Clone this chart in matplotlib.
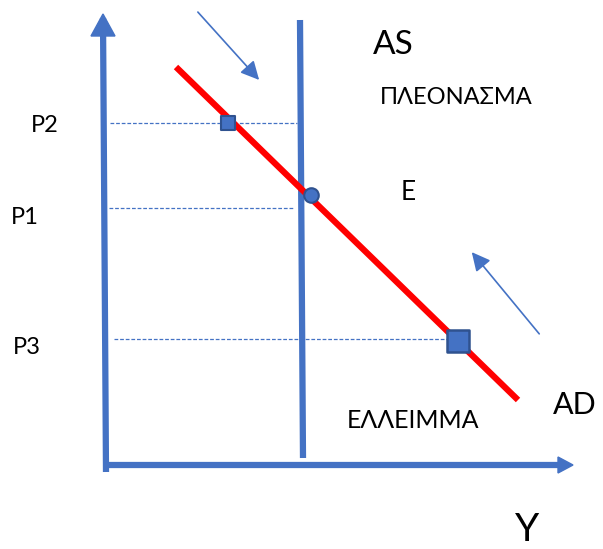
import matplotlib.pyplot as plt
from matplotlib.patches import FancyArrowPatch

BLUE = "#4472C4"
RED = "#FF0000"

# Diagram geometry in picture units (x to the right, y downwards)
y_axis_x = [103, 106]
y_axis_y = [18, 472]
x_axis_x = [105, 560]
x_axis_y = [465, 465]
as_x = [300, 303]
as_y = [20, 458]
ad_x = [176, 518]
ad_y = [67, 400]

price_labels = ["P2", "P1", "P3"]
price_y = [123, 208, 339]
dash_start = [110, 109, 114]
dash_end = [297, 293, 455]
label_pos = [(45, 125), (25, 218), (27, 348)]

square_x = [228, 458]
square_y = [123, 341]
eq_x = [311]
eq_y = [195]

move_arrows = [((196, 10), (261, 82)), ((541, 336), (470, 250))]

texts = [
    ("AS", 393, 45, 24),
    ("ΠΛΕΟΝΑΣΜΑ", 456, 98, 17),
    ("E", 408, 193, 19),
    ("AD", 575, 405, 22),
    ("ΕΛΛΕΙΜΜΑ", 413, 420, 18),
    ("Y", 527, 530, 28),
]

plt.rcParams["font.family"] = ["Lato", "DejaVu Sans"]

fig = plt.figure(figsize=(6.03, 5.49), dpi=100)
ax = fig.add_axes([0, 0, 1, 1])
ax.set_xlim(0, 603)
ax.set_ylim(549, 0)
ax.axis("off")

# axes of the diagram
ax.plot(y_axis_x, y_axis_y, color=BLUE, lw=4.5, solid_capstyle="butt")
ax.plot(x_axis_x, x_axis_y, color=BLUE, lw=4.5, solid_capstyle="butt")
ax.fill([91, 103, 115], [36, 14, 36], color=BLUE)
ax.fill([558, 573, 558], [457, 465, 473], color=BLUE)

# AS and AD curves
ax.plot(as_x, as_y, color=BLUE, lw=4.5, solid_capstyle="butt")
ax.plot(ad_x, ad_y, color=RED, lw=4.5, solid_capstyle="butt", zorder=3)

# dashed price lines
for y, x0, x1 in zip(price_y, dash_start, dash_end):
    ax.plot([x0, x1], [y, y], color=BLUE, lw=0.9, ls=(0, (3, 1.5)))

for lab, (tx, ty) in zip(price_labels, label_pos):
    ax.text(tx, ty, lab, fontsize=17, ha="center", va="center")

ax.scatter(square_x[:1], square_y[:1], marker="s", s=110, color=BLUE,
           edgecolor="#2F528F", lw=1.5, zorder=4)
ax.scatter(square_x[1:], square_y[1:], marker="s", s=240, color=BLUE,
           edgecolor="#2F528F", lw=1.8, zorder=4)
ax.scatter(eq_x, eq_y, marker="o", s=110, color=BLUE,
           edgecolor="#2F528F", lw=1.5, zorder=4)

for start, end in move_arrows:
    ax.add_patch(FancyArrowPatch(start, end, arrowstyle="-|>,head_length=8,head_width=4",
                                 color=BLUE, lw=1.2, mutation_scale=1.4))

for s, tx, ty, fs in texts:
    ax.text(tx, ty, s, fontsize=fs, ha="center", va="center")

fig.savefig("out.png", dpi=100)
